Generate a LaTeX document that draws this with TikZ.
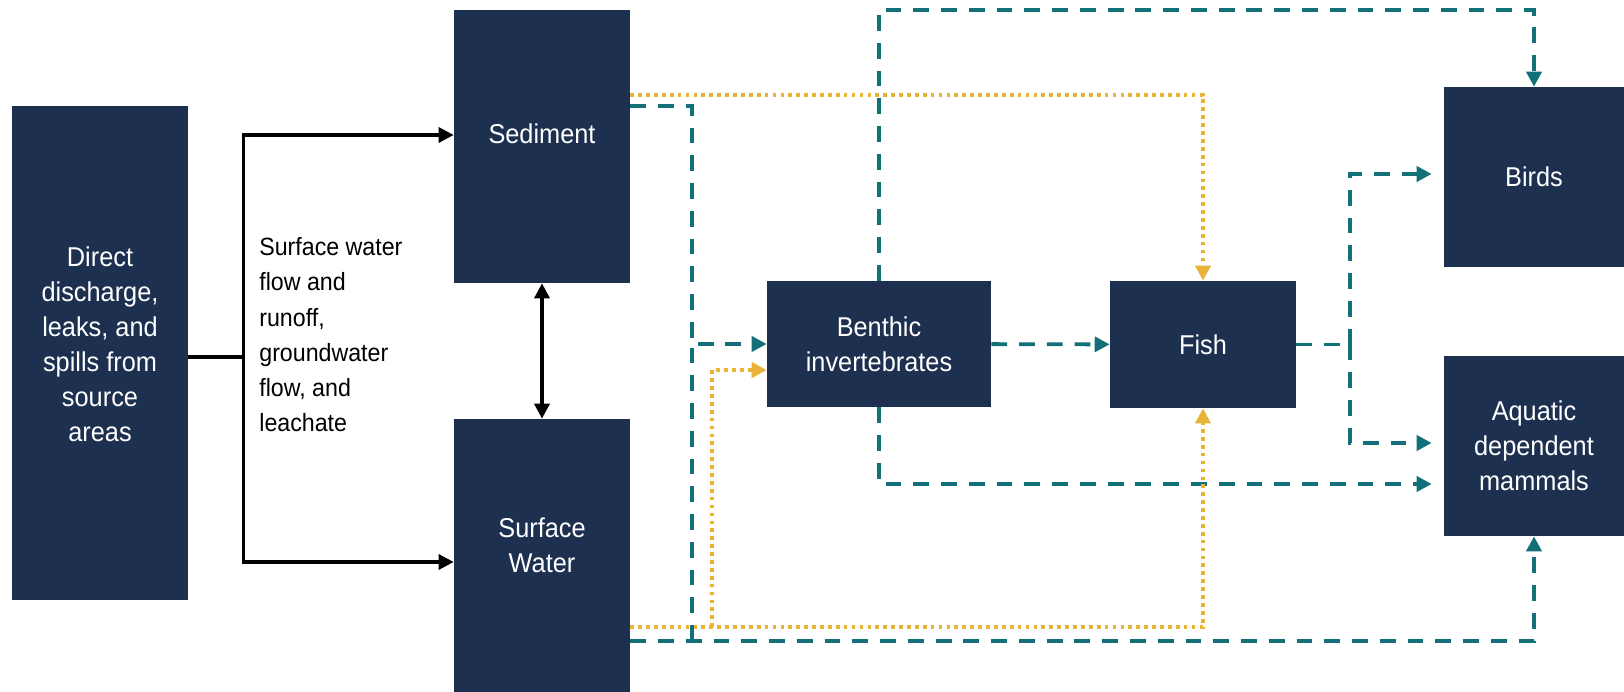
\documentclass[tikz,border=0pt]{standalone}
\usepackage{fontspec}
\setmainfont{Liberation Sans}[FakeStretch=0.93]
\usetikzlibrary{calc,arrows.meta}

\definecolor{navy}{RGB}{29,48,80}
\definecolor{tealc}{RGB}{18,113,120}
\definecolor{gold}{RGB}{233,178,56}
\newcommand{\bxfont}{\fontsize{15.5}{19.9}\selectfont}

\begin{document}
\begin{tikzpicture}[x=0.02cm, y=-0.02cm,
  box/.style={fill=navy, text=white, align=center, inner sep=0pt, font=\bxfont},
  boxlab/.style={text=white, align=center, font=\bxfont},
  tip/.style={-{Triangle[length=8.5pt,width=8.5pt]}},
  blk/.style={tip, line width=1.9pt},
  tl/.style={tip, tealc, line width=2.2pt, dash pattern=on 9pt off 6.8pt},
  yl/.style={tip, gold, line width=2.2pt, dash pattern=on 2.1pt off 2.4pt}]
\useasboundingbox (0,0) rectangle (1624,692);

% boxes
\node[box, minimum width=3.52cm, minimum height=9.88cm, label={[boxlab, yshift=0.17cm]center:Direct\\discharge,\\leaks, and\\spills from\\source\\areas}] (src) at (100,353) {};
\node[box, minimum width=3.52cm, minimum height=5.46cm, label={[boxlab, yshift=0.25cm]center:Sediment}] (sed) at (542,146.5) {};
\node[box, minimum width=3.52cm, minimum height=5.46cm, label={[boxlab, yshift=0.2cm]center:Surface\\Water}] (sw) at (542,555.5) {};
\node[box, minimum width=4.48cm, minimum height=2.52cm] (ben) at (879,344) {Benthic\\invertebrates};
\node[box, minimum width=3.72cm, minimum height=2.54cm] (fish) at (1203,344.5) {Fish};
\node[box, minimum width=3.6cm, minimum height=3.6cm] (bird) at (1534,177) {Birds};
\node[box, minimum width=3.6cm, minimum height=3.6cm] (aq) at (1534,446) {Aquatic\\dependent\\mammals};
\node[anchor=north west, align=left, inner sep=0pt, font=\fontsize{14.2}{20.1}\selectfont] (flow) at (259,237) {Surface water\\flow and\\runoff,\\groundwater\\flow, and\\leachate};

% transport from source
\draw[blk,-] ($(src.east)+(0,4)$) -- ++(55,0) coordinate (jn);
\draw[blk] (jn) |- ($(sed.west)+(0,-11.5)$);
\draw[blk] (jn) |- ($(sw.west)+(0,6.5)$);
\draw[blk,{Triangle[length=8.5pt,width=8.5pt]}-{Triangle[length=8.5pt,width=8.5pt]}] (sed) -- (sw);

% teal pathways
\coordinate (bus) at (692,641);
\draw[tl] ($(sed.east)+(0,-40.5)$) -| (692,344) -- (ben.west);
\draw[tl,-] (bus) -- (692,344);
\draw[tl] ($(sw.east)+(0,85.5)$) -| (aq.south);
\draw[tl] (ben.north) |- ($(bird.north)+(0,-77)$) -- (bird.north);
\draw[tl, shorten >=0.24cm] (ben.south) |- ($(aq.west)+(0,38)$);
\draw[tl] (ben) -- (fish);
\draw[tl,-] (fish.east) -- ++(54,0) coordinate (fk);
\draw[tl, shorten >=0.24cm] (fk) |- ($(bird.west)+(0,-3)$);
\draw[tl, shorten >=0.24cm] (fk) |- ($(aq.west)+(0,-3)$);

% gold pathways
\draw[yl] ($(sed.east)+(0,-51.5)$) -| (fish.north);
\draw[yl] ($(sw.east)+(0,71.5)$) -| (fish.south);
\draw[yl] ($(sw.east)+(82,71.5)$) |- ($(ben.west)+(0,26)$);
\end{tikzpicture}
\end{document}
